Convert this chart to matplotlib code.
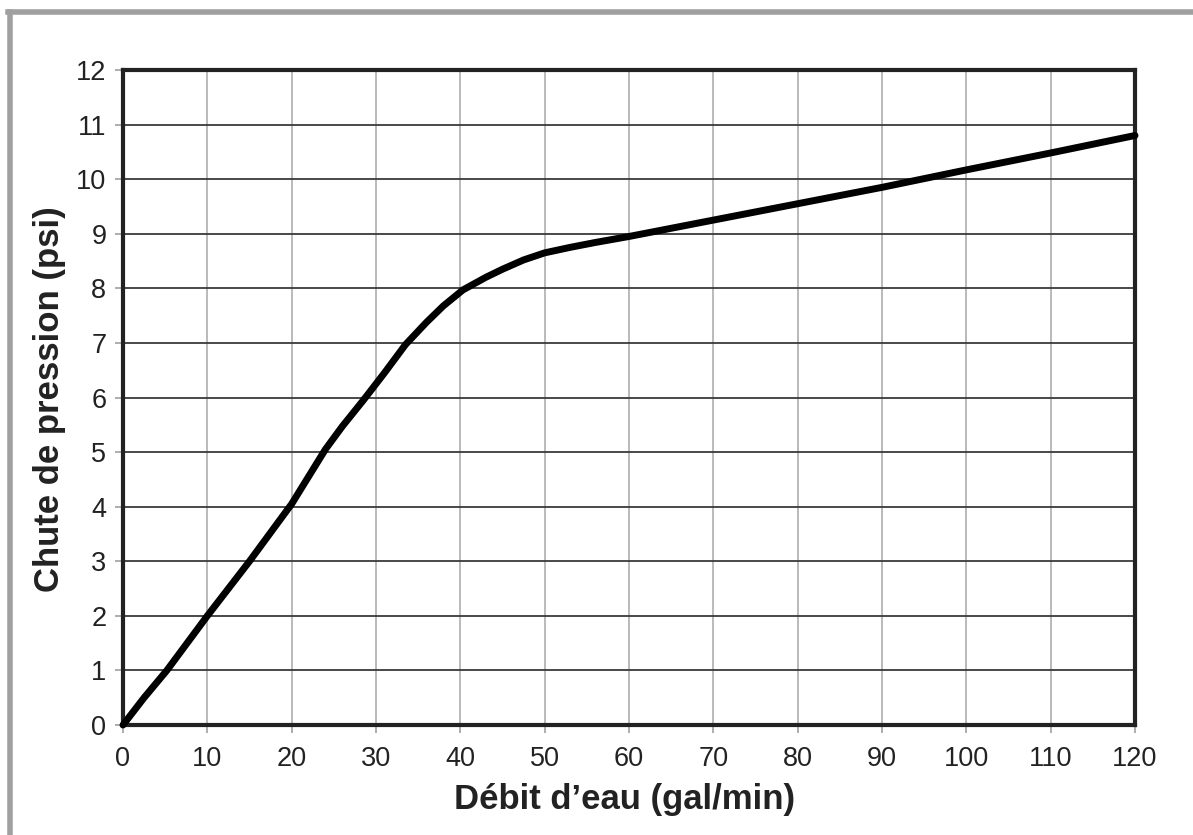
import matplotlib
matplotlib.use('Agg')
import matplotlib.pyplot as plt
from matplotlib.lines import Line2D

plt.rcParams['font.family'] = ['Liberation Sans', 'DejaVu Sans']

# debit d'eau (gal/min) vs chute de pression (psi)
debit = [0, 2.5, 5.2, 10, 15, 20, 22, 24, 26, 28.5, 31, 33.5, 36, 38, 40.3, 43,
         45, 47.5, 50, 53, 56, 60, 70, 80, 90, 95, 100, 110, 120]
chute = [0, 0.5, 1.0, 2.0, 3.0, 4.05, 4.55, 5.05, 5.47, 5.95, 6.45, 6.97, 7.38, 7.68,
         7.97, 8.2, 8.35, 8.52, 8.65, 8.75, 8.84, 8.95, 9.25, 9.55, 9.85, 10.01, 10.17,
         10.48, 10.8]
xticks = list(range(0, 121, 10))
yticks = list(range(0, 13))

fig = plt.figure(figsize=(11.93, 8.35), dpi=100)
ax = fig.add_axes([123/1193, 110/835, 1012/1193, 655/835])

# grille : verticales claires, horizontales foncees
for x in xticks:
    ax.axvline(x, color='#b4b4b4', lw=1.3, zorder=1)
for y in yticks:
    ax.axhline(y, color='#3a3a3a', lw=1.3, zorder=1)

ax.plot(debit, chute, color='black', lw=5, solid_capstyle='round',
        solid_joinstyle='round', zorder=3, clip_on=False)

ax.set_xlim(0, 120)
ax.set_ylim(0, 12)
ax.set_xticks(xticks)
ax.set_yticks(yticks)
ax.tick_params(axis='both', labelsize=19.5, labelcolor='#222222', length=6,
               width=1.2, direction='out', color='#a0a0a0')
ax.tick_params(axis='x', pad=9)
ax.tick_params(axis='y', pad=6)
for s in ax.spines.values():
    s.set_color('#222222')
    s.set_linewidth(3)

ax.set_xlabel('Débit d\u2019eau (gal/min)', fontsize=25, fontweight='bold',
              color='#222222')
ax.set_ylabel('Chute de pression (psi)', fontsize=25, fontweight='bold',
              color='#222222')
ax.xaxis.set_label_coords(0.496, -0.088)
ax.yaxis.set_label_coords(-0.056, 0.497)

# cadre gris (haut et gauche)
fig.add_artist(Line2D([8/1193, 1.0], [1 - 12/835, 1 - 12/835], color='#a0a0a0',
                      lw=4, transform=fig.transFigure))
fig.add_artist(Line2D([10/1193, 10/1193], [0, 1 - 12/835], color='#a0a0a0',
                      lw=4, transform=fig.transFigure))

fig.savefig('out.png', dpi=100)
